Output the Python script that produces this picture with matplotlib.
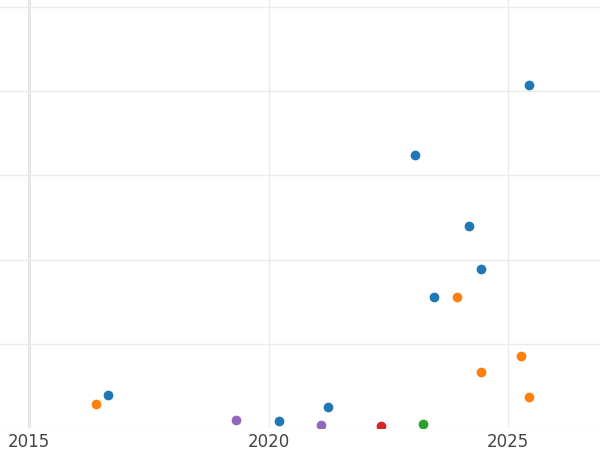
import matplotlib
matplotlib.use("Agg")
import matplotlib.pyplot as plt

blue_x = [2025.44, 2023.06, 2024.19, 2024.44, 2023.45, 2016.65, 2020.22, 2021.24]
blue_y = [4.07, 3.24, 2.40, 1.89, 1.56, 0.39, 0.08, 0.25]
orange_x = [2016.40, 2023.93, 2025.27, 2024.44, 2025.44]
orange_y = [0.29, 1.55, 0.85, 0.67, 0.37]
purple_x = [2019.32, 2021.09]
purple_y = [0.10, 0.04]
red_x = [2022.35]
red_y = [0.02]
green_x = [2023.23]
green_y = [0.05]
xticks = [2015, 2020, 2025]

fig = plt.figure(figsize=(6, 4.5), dpi=100)
ax = fig.add_axes([0, 0.049, 1, 0.951])
for xs, ys, c in [(blue_x, blue_y, "#1f77b4"), (orange_x, orange_y, "#ff7f0e"),
                  (purple_x, purple_y, "#9467bd"), (red_x, red_y, "#d62728"),
                  (green_x, green_y, "#2ca02c")]:
    ax.scatter(xs, ys, s=36, color=c, zorder=3, clip_on=True)
ax.set_xlim(2014.39, 2026.92)
ax.set_ylim(0, 5.083)
ax.set_xticks(xticks)
ax.set_xticklabels([str(t) for t in xticks], fontsize=12, color="#444444")
ax.set_yticks([0, 1, 2, 3, 4, 5])
ax.set_yticklabels([])
ax.tick_params(length=0)
ax.grid(True, color="#ebebeb", linewidth=1)
ax.axvline(2015, color="#e0e0e0", linewidth=2, zorder=1)
for s in ax.spines.values():
    s.set_visible(False)
fig.savefig("out.png", dpi=100)
